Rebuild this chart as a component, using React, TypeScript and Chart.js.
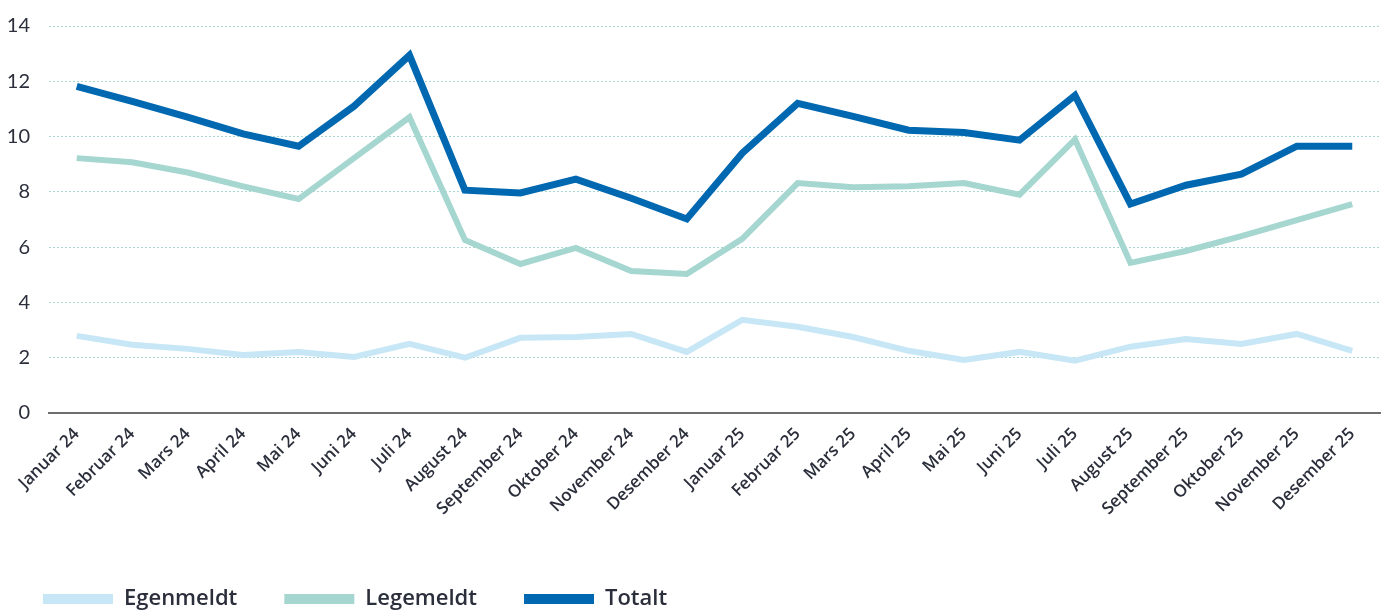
import React, { useEffect, useRef } from "react";
import { Chart, registerables } from "chart.js";

Chart.register(...registerables);

const categories = [
  "Januar 24", "Februar 24", "Mars 24", "April 24", "Mai 24", "Juni 24",
  "Juli 24", "August 24", "September 24", "Oktober 24", "November 24", "Desember 24",
  "Januar 25", "Februar 25", "Mars 25", "April 25", "Mai 25", "Juni 25",
  "Juli 25", "August 25", "September 25", "Oktober 25", "November 25", "Desember 25",
];

const egenmeldt = [
  2.79, 2.47, 2.32, 2.1, 2.21, 2.03, 2.5, 2.0, 2.72, 2.75, 2.86, 2.21,
  3.37, 3.12, 2.75, 2.25, 1.92, 2.21, 1.89, 2.4, 2.68, 2.5, 2.86, 2.25,
];

const legemeldt = [
  9.22, 9.07, 8.7, 8.2, 7.74, 9.22, 10.7, 6.26, 5.39, 5.97, 5.14, 5.03,
  6.3, 8.32, 8.17, 8.2, 8.32, 7.9, 9.9, 5.43, 5.86, 6.4, 6.98, 7.56,
];

const totalt = [
  11.82, 11.27, 10.7, 10.1, 9.65, 11.1, 12.94, 8.06, 7.96, 8.46, 7.77, 7.02,
  9.4, 11.2, 10.73, 10.23, 10.15, 9.87, 11.49, 7.56, 8.24, 8.64, 9.65, 9.65,
];

const yTicks = [0, 2, 4, 6, 8, 10, 12, 14];

const COLORS = {
  egen: "#c7e7f6",
  lege: "#a6d6d0",
  total: "#0068b1",
  grid: "#a8d8d2",
  text: "#2b2f3b",
  axis: "#6e6e70",
};

export default function App() {
  const ref = useRef<HTMLCanvasElement | null>(null);

  useEffect(() => {
    if (!ref.current) return;
    const chart = new Chart(ref.current, {
      type: "line",
      data: {
        labels: categories,
        datasets: [
          {
            label: "Egenmeldt",
            data: egenmeldt,
            borderColor: COLORS.egen,
            backgroundColor: COLORS.egen,
            borderWidth: 6,
          },
          {
            label: "Legemeldt",
            data: legemeldt,
            borderColor: COLORS.lege,
            backgroundColor: COLORS.lege,
            borderWidth: 6,
          },
          {
            label: "Totalt",
            data: totalt,
            borderColor: COLORS.total,
            backgroundColor: COLORS.total,
            borderWidth: 7,
          },
        ],
      },
      options: {
        animation: false,
        responsive: false,
        maintainAspectRatio: false,
        devicePixelRatio: 1,
        layout: { padding: { top: 26, right: 7, left: 0, bottom: 0 } },
        elements: {
          line: { tension: 0, borderCapStyle: "butt", borderJoinStyle: "miter", fill: false },
          point: { radius: 0, hoverRadius: 0 },
        },
        plugins: {
          tooltip: { enabled: false },
          legend: {
            position: "bottom",
            align: "start",
            labels: {
              boxWidth: 70,
              boxHeight: 10,
              padding: 47,
              color: COLORS.text,
              font: { family: "Open Sans", size: 22, weight: "600" },
              sort: (a: any, b: any) => a.datasetIndex - b.datasetIndex,
              generateLabels: (c: any) => {
                const items = Chart.defaults.plugins.legend.labels.generateLabels(c);
                return items.map((it: any) => ({ ...it, lineWidth: 0, fillStyle: it.strokeStyle }));
              },
            },
          },
        },
        scales: {
          x: {
            type: "category",
            offset: true,
            grid: { display: false, drawTicks: false },
            border: { display: true, color: COLORS.axis, width: 2 },
            ticks: {
              color: COLORS.text,
              font: { family: "Open Sans", size: 17, weight: "600" },
              maxRotation: 45,
              minRotation: 45,
              autoSkip: false,
              padding: 11,
            },
            afterFit: (s: any) => {
              s.height = 128;
            },
          },
          y: {
            min: 0,
            max: 14,
            afterBuildTicks: (s: any) => {
              s.ticks = yTicks.map((v) => ({ value: v }));
            },
            grid: {
              color: (ctx: any) => (ctx.tick && ctx.tick.value === 0 ? "rgba(0,0,0,0)" : COLORS.grid),
              lineWidth: 1,
              drawTicks: false,
            },
            border: { display: false, dash: [2, 2] },
            ticks: {
              color: COLORS.text,
              font: { family: "Lato", size: 20 },
              padding: 19,
            },
            afterFit: (s: any) => {
              s.width = 53;
              s.paddingTop = 0;
              s.paddingBottom = 0;
            },
          },
        },
      },
    });
    return () => chart.destroy();
  }, []);

  return (
    <div style={{ position: "absolute", left: 0, top: 0, width: 1387, height: 612, overflow: "hidden", background: "#fff" }}>
      <canvas
        ref={ref}
        width={1391}
        height={620}
        style={{ position: "absolute", left: -4, top: 0, display: "block", width: 1391, height: 620 }}
      />
    </div>
  );
}
